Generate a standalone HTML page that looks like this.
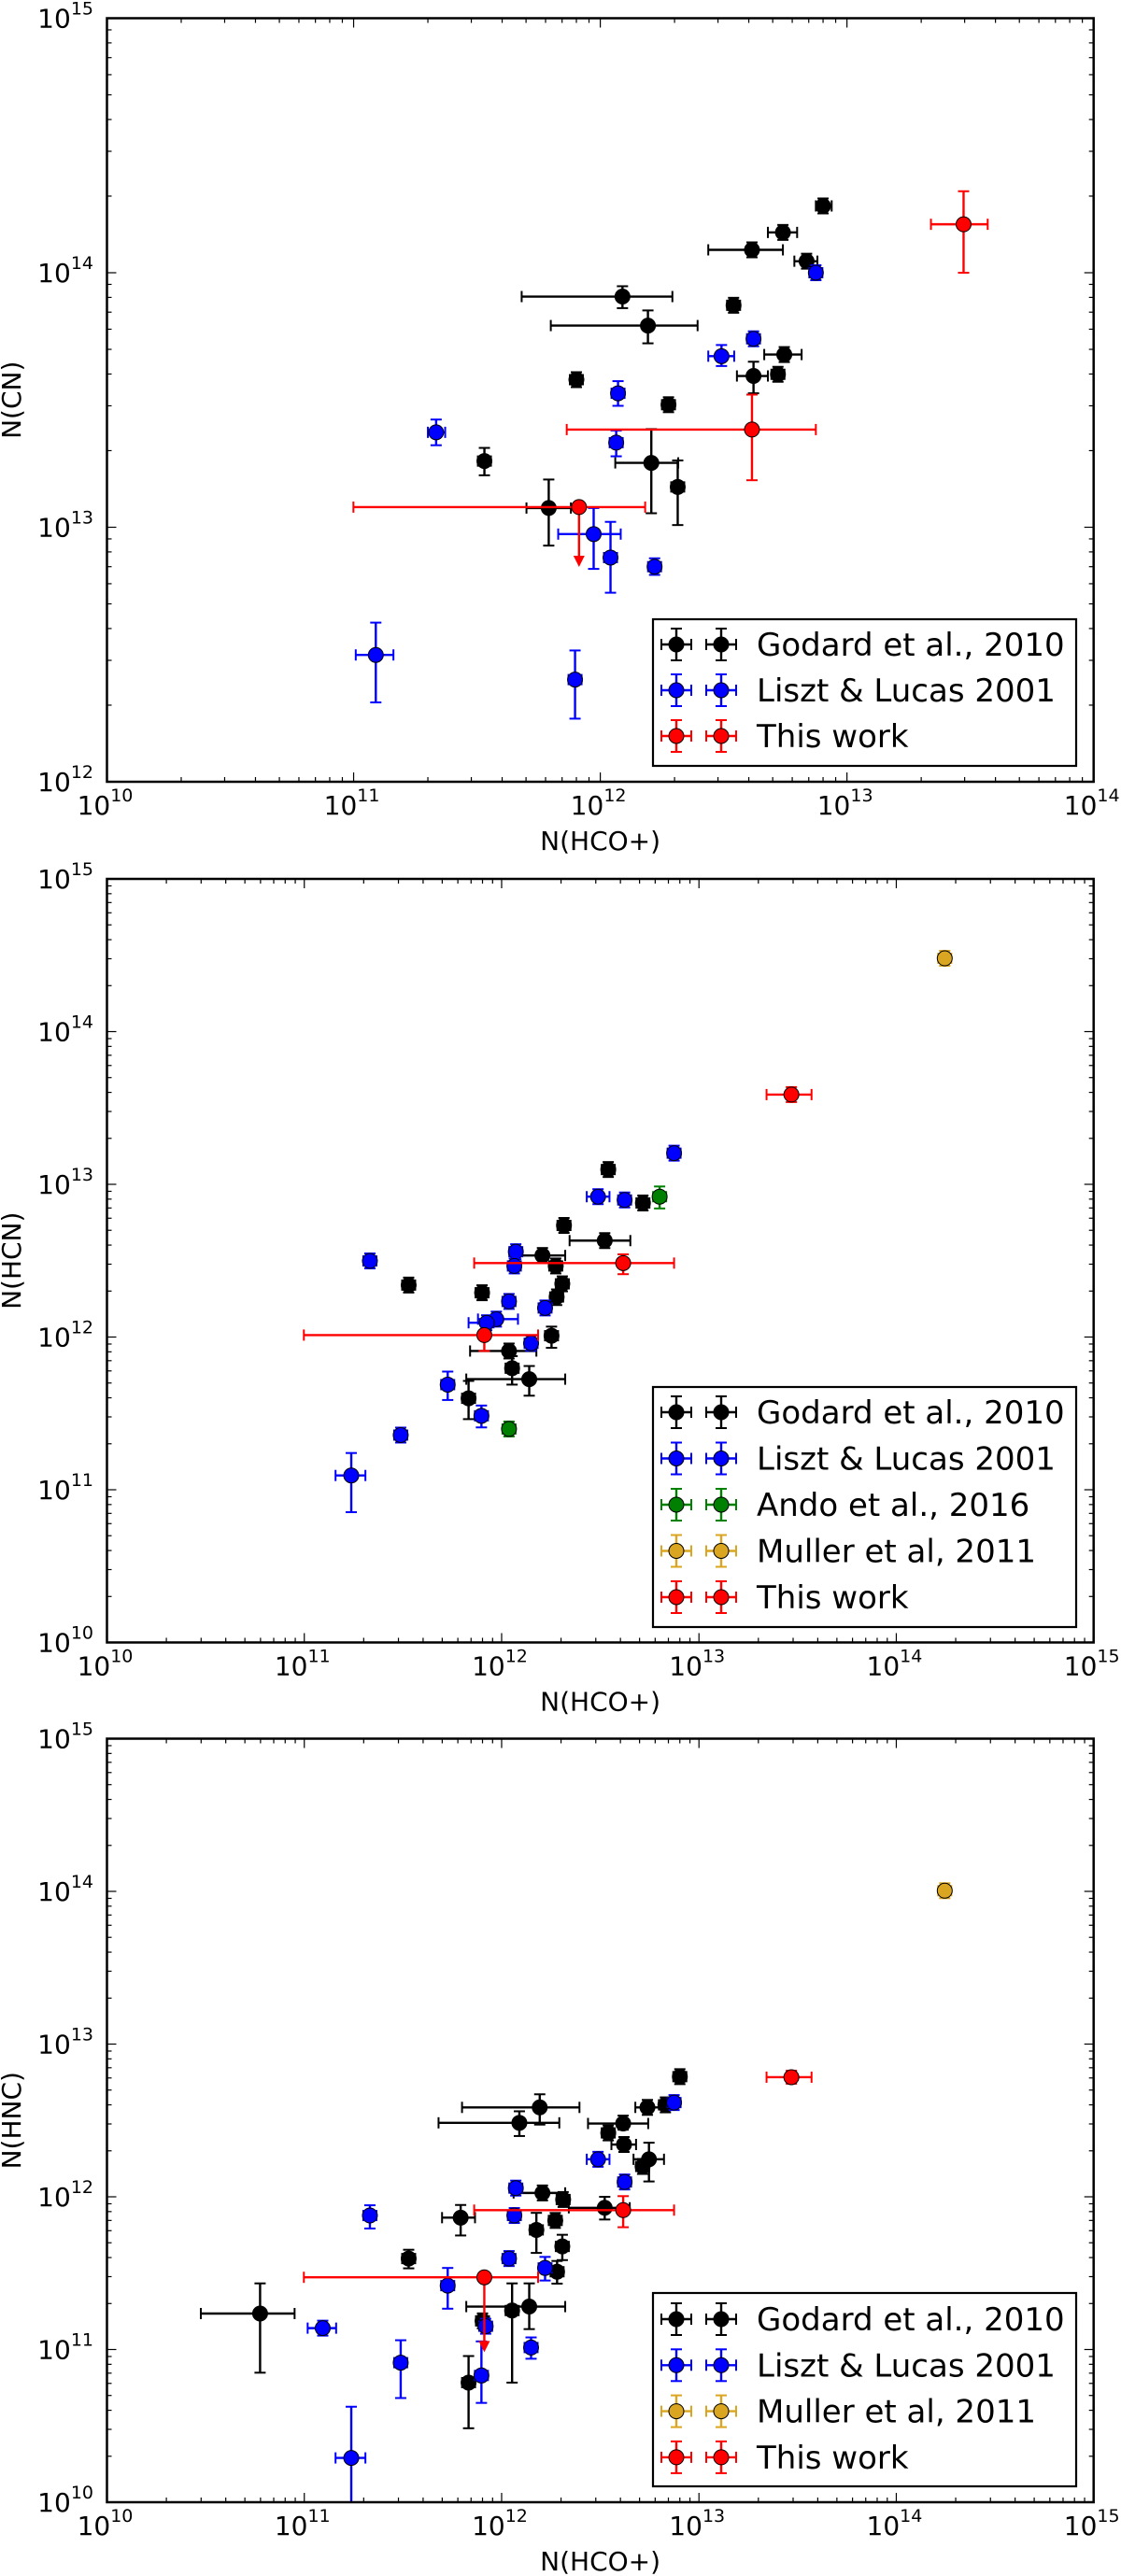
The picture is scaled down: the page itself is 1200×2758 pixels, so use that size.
<!DOCTYPE html>
<html><head><meta charset="utf-8"><title>Column density comparisons</title>
<style>html,body{margin:0;padding:0;background:#fff}svg{display:block}text{font-family:"DejaVu Sans","Liberation Sans",sans-serif;fill:#000}</style>
</head><body>
<svg id="fig" xmlns="http://www.w3.org/2000/svg" width="1200" height="2758" viewBox="0 0 1200 2758"></svg>
<script>
// ---- data: [x, y, xlo, xhi, ylo, yhi] (null = small error) ----
const p1Godard=[[8.0e12,1.83e14,7.48e12,8.67e12,null,null],[5.5e12,1.44e14,4.78e12,6.28e12,null,null],[4.12e12,1.23e14,2.74e12,5.5e12,null,null],[6.86e12,1.11e14,6.12e12,7.59e12,null,null],[1.23e12,8.06e13,4.8e11,1.96e12,7.26e13,8.85e13],[3.47e12,7.45e13,null,null,null,null],[1.56e12,6.2e13,6.3e11,2.48e12,5.28e13,7.11e13],[5.57e12,4.77e13,4.62e12,6.55e12,null,null],[4.18e12,3.93e13,3.58e12,4.78e12,3.36e13,4.47e13],[5.25e12,3.99e13,null,null,null,null],[8.0e11,3.8e13,null,null,null,null],[1.89e12,3.03e13,null,null,null,null],[3.39e11,1.82e13,null,null,1.6e13,2.05e13],[1.61e12,1.79e13,1.15e12,2.07e12,1.135e13,2.43e13],[2.06e12,1.44e13,null,null,1.02e13,1.83e13],[6.18e11,1.19e13,5.02e11,7.6e11,8.47e12,1.54e13]];
const p1Liszt=[[7.48e12,1.0e14,null,null,null,null],[4.18e12,5.5e13,null,null,null,null],[3.1e12,4.7e13,2.74e12,3.49e12,4.3e13,5.2e13],[1.18e12,3.36e13,null,null,3.0e13,3.75e13],[2.16e11,2.36e13,2.0e11,2.35e11,2.1e13,2.65e13],[1.16e12,2.15e13,null,null,1.9e13,2.4e13],[9.4e11,9.4e12,6.75e11,1.21e12,6.86e12,1.19e13],[1.1e12,7.6e12,null,null,5.53e12,1.05e13],[1.66e12,7.0e12,null,null,6.5e12,7.55e12],[1.23e11,3.15e12,1.02e11,1.45e11,2.05e12,4.22e12],[7.9e11,2.52e12,null,null,1.77e12,3.28e12]];
const p1Red=[[2.97e13,1.55e14,2.19e13,3.72e13,1.0e14,2.09e14],[4.12e12,2.42e13,7.31e11,7.48e12,1.53e13,3.32e13]];
const p1RedLimit=[[8.2e11,1.2e13,9.98e10,1.52e12,6.98e12]];

const p2Godard=[[3.47e12,1.25e13,null,null,null,null],[5.2e12,7.55e12,null,null,null,null],[2.07e12,5.38e12,null,null,null,null],[3.33e12,4.28e12,2.21e12,4.49e12,null,null],[1.61e12,3.42e12,1.17e12,2.1e12,null,null],[1.88e12,2.92e12,null,null,null,null],[2.03e12,2.23e12,null,null,null,null],[3.38e11,2.19e12,null,null,null,null],[7.96e11,1.95e12,null,null,null,null],[1.9e12,1.83e12,null,null,1.62e12,2.05e12],[1.79e12,1.02e12,null,null,8.5e11,1.17e12],[1.09e12,8.1e11,6.92e11,1.5e12,null,null],[1.13e12,6.25e11,null,null,4.88e11,7.5e11],[1.38e12,5.3e11,6.62e11,2.1e12,4.13e11,6.46e11],[6.8e11,3.97e11,null,null,2.9e11,5.16e11]];
const p2Liszt=[[7.48e12,1.6e13,null,null,null,null],[3.08e12,8.3e12,2.7e12,3.52e12,null,null],[4.2e12,7.9e12,null,null,null,null],[1.18e12,3.62e12,null,null,null,null],[1.16e12,2.92e12,null,null,null,null],[2.15e11,3.15e12,null,null,null,null],[1.09e12,1.71e12,null,null,null,null],[1.66e12,1.55e12,null,null,null,null],[9.4e11,1.31e12,7.59e11,1.21e12,null,null],[8.4e11,1.24e12,6.8e11,9.1e11,null,null],[1.41e12,9.1e11,null,null,null,null],[5.33e11,4.88e11,null,null,3.87e11,5.94e11],[7.9e11,3.05e11,null,null,2.56e11,3.56e11],[3.08e11,2.28e11,null,null,null,null],[1.73e11,1.24e11,1.44e11,2.04e11,7.13e10,1.74e11]];
const p2Ando=[[6.32e12,8.3e12,null,null,6.95e12,9.68e12],[1.09e12,2.5e11,null,null,null,null]];
const p2Muller=[[1.76e14,3.02e14,null,null,null,null]];
const p2Red=[[2.94e13,3.87e13,2.2e13,3.72e13,null,null],[4.13e12,3.05e12,7.26e11,7.48e12,2.58e12,3.48e12],[8.17e11,1.03e12,9.95e10,1.53e12,8.1e11,1.03e12]];

const p3Godard=[[8.0e12,6.12e12,null,null,null,null],[6.76e12,4.0e12,null,null,null,null],[5.48e12,3.85e12,4.76e12,6.65e12,null,null],[1.56e12,3.85e12,6.3e11,2.48e12,2.97e12,4.69e12],[1.23e12,3.05e12,4.79e11,1.96e12,2.5e12,3.63e12],[4.13e12,3.02e12,2.74e12,5.53e12,2.75e12,3.4e12],[3.47e12,2.62e12,null,null,null,null],[4.17e12,2.2e12,3.6e12,4.8e12,null,null],[5.58e12,1.76e12,4.66e12,6.65e12,1.26e12,2.26e12],[5.18e12,1.58e12,null,null,null,null],[1.61e12,1.06e12,1.15e12,2.1e12,null,null],[2.05e12,9.6e11,null,null,null,null],[3.33e12,8.47e11,2.19e12,4.46e12,7.1e11,1.0e12],[6.2e11,7.3e11,4.99e11,7.33e11,5.58e11,8.84e11],[1.87e12,7.0e11,null,null,null,null],[1.5e12,6.07e11,null,null,4.29e11,7.85e11],[2.03e12,4.73e11,null,null,3.85e11,5.64e11],[3.38e11,3.94e11,null,null,3.4e11,4.5e11],[1.91e12,3.23e11,null,null,2.7e11,3.8e11],[5.97e10,1.72e11,2.99e10,8.93e10,7.05e10,2.71e11],[1.38e12,1.91e11,6.62e11,2.1e12,1.36e11,2.71e11],[1.13e12,1.8e11,null,null,6.07e10,2.71e11],[8.0e11,1.54e11,null,null,null,null],[6.8e11,6.07e10,null,null,3.05e10,9.06e10]];
const p3Liszt=[[7.48e12,4.14e12,null,null,null,null],[3.08e12,1.76e12,2.7e12,3.52e12,null,null],[4.2e12,1.25e12,null,null,null,null],[1.18e12,1.14e12,null,null,null,null],[1.16e12,7.54e11,null,null,null,null],[2.15e11,7.54e11,null,null,6.2e11,8.8e11],[1.09e12,3.94e11,null,null,null,null],[1.66e12,3.42e11,null,null,2.83e11,4.04e11],[5.33e11,2.62e11,null,null,1.85e11,3.42e11],[8.3e11,1.42e11,null,null,null,null],[1.24e11,1.38e11,1.04e11,1.45e11,null,null],[1.41e12,1.03e11,null,null,8.7e10,1.2e11],[3.08e11,8.2e10,null,null,4.81e10,1.15e11],[7.9e11,6.76e10,null,null,4.47e10,1.13e11],[1.73e11,1.95e10,1.44e11,2.04e11,1e9,4.22e10]];
const p3Muller=[[1.76e14,1.01e14,null,null,null,null]];
const p3Red=[[2.94e13,6.07e12,2.2e13,3.72e13,5.5e12,6.7e12],[4.13e12,8.18e11,7.26e11,7.48e12,6.32e11,1.01e12]];
const p3RedLimit=[[8.17e11,2.97e11,9.95e10,1.53e12,9.6e10]];

const COLORS={black:'#000000',blue:'#0000ff',green:'#008000',gold:'#daa520',red:'#ff0000'};
const NS='http://www.w3.org/2000/svg';
const svg=document.getElementById('fig');
function mk(tag,attrs,parent){const e=document.createElementNS(NS,tag);for(const k in attrs)e.setAttribute(k,attrs[k]);(parent||svg).appendChild(e);return e;}
const L=114.5,R=1170.7;

function panel(cfg){
  const g=mk('g',{});
  
  
  const lg=Math.log10;
  const sx=v=>L+(lg(v)-cfg.x0)/(cfg.x1-cfg.x0)*(R-L);
  const sy=v=>cfg.B-(lg(v)-cfg.y0)/(cfg.y1-cfg.y0)*(cfg.B-cfg.T);
  const clipId='clip'+cfg.idx;
  const cp=mk('clipPath',{id:clipId},g);mk('rect',{x:L,y:cfg.T,width:R-L,height:cfg.B-cfg.T},cp);
  const tg=mk('g',{stroke:'#000','stroke-width':1.2},g);
  
  
  for(let d=cfg.x0;d<=cfg.x1;d++){for(let m=1;m<=9;m++){const v=m*Math.pow(10,d);if(lg(v)>cfg.x1+1e-9)break;const x=sx(v);const len=m===1?10:5;
    mk('line',{x1:x,y1:cfg.B,x2:x,y2:cfg.B-len},tg);mk('line',{x1:x,y1:cfg.T,x2:x,y2:cfg.T+len},tg);}}
  for(let d=cfg.y0;d<=cfg.y1;d++){for(let m=1;m<=9;m++){const v=m*Math.pow(10,d);if(lg(v)>cfg.y1+1e-9)break;const y=sy(v);const len=m===1?10:5;
    mk('line',{x1:L,y1:y,x2:L+len,y2:y},tg);mk('line',{x1:R,y1:y,x2:R-len,y2:y},tg);}}
  for(let d=cfg.x0;d<=cfg.x1;d++){const t=mk('text',{x:sx(Math.pow(10,d))-2,y:cfg.B+35,'font-size':28,'text-anchor':'middle'},g);
    
    
    t.appendChild(document.createTextNode('10'));const s=mk('tspan',{dy:-14,'font-size':19},t);s.textContent=String(d);}
  for(let d=cfg.y0;d<=cfg.y1;d++){const t=mk('text',{x:100,y:sy(Math.pow(10,d))+10,'font-size':28,'text-anchor':'end'},g);
    
    
    t.appendChild(document.createTextNode('10'));const s=mk('tspan',{dy:-14,'font-size':19},t);s.textContent=String(d);}
  const xt=mk('text',{x:(L+R)/2,y:cfg.B+73,'font-size':28,'text-anchor':'middle'},g);xt.textContent='N(HCO+)';
  
  
  const cy=(cfg.T+cfg.B)/2;
  const yt=mk('text',{x:22,y:cy,'font-size':28,'text-anchor':'middle',transform:'rotate(-90 22 '+cy+')'},g);yt.textContent=cfg.ylabel;
  
  
  const dg=mk('g',{'clip-path':'url(#'+clipId+')'},g);
  function errbar(col,x1,y1,x2,y2,horiz,parent){
    mk('line',{x1:x1,y1:y1,x2:x2,y2:y2,stroke:col,'stroke-width':2.4},parent);
    if(horiz){mk('line',{x1:x1,y1:y1-6,x2:x1,y2:y1+6,stroke:col,'stroke-width':2},parent);mk('line',{x1:x2,y1:y2-6,x2:x2,y2:y2+6,stroke:col,'stroke-width':2},parent);}
    else{mk('line',{x1:x1-6,y1:y1,x2:x1+6,y2:y1,stroke:col,'stroke-width':2},parent);mk('line',{x1:x2-6,y1:y2,x2:x2+6,y2:y2,stroke:col,'stroke-width':2},parent);}
  }
  cfg.series.forEach(s=>{
    const col=COLORS[s.color];
    const sg=mk('g',{},dg);
    
    
    s.data.forEach(p=>{
      const x=sx(p[0]),y=sy(p[1]);
      const xl=p[2]!=null?sx(p[2]):x-7,xh=p[3]!=null?sx(p[3]):x+7;
      const yl=p[4]!=null?sy(p[4]):y+8,yh=p[5]!=null?sy(p[5]):y-8;
      errbar(col,xl,y,xh,y,true,sg);errbar(col,x,yh,x,yl,false,sg);
      const c=mk('circle',{cx:x,cy:y,r:8,fill:col,stroke:'#000','stroke-width':1},sg);
      
      
    });
    (s.limits||[]).forEach(p=>{
      const x=sx(p[0]),y=sy(p[1]),xl=sx(p[2]),xh=sx(p[3]),ye=sy(p[4]);
      errbar(col,xl,y,xh,y,true,sg);
      mk('line',{x1:x,y1:y,x2:x,y2:ye-10,stroke:col,'stroke-width':2.4},sg);
      const a=mk('polygon',{points:(x-6)+','+(ye-12)+' '+(x+6)+','+(ye-12)+' '+x+','+ye,fill:col},sg);
      
      
      const c=mk('circle',{cx:x,cy:y,r:8,fill:col,stroke:'#000','stroke-width':1},sg);
      
      
    });
  });
  const fr=mk('rect',{x:L,y:cfg.T,width:R-L,height:cfg.B-cfg.T,fill:'none',stroke:'#000','stroke-width':2.5},g);
  
  
  const lgd=mk('g',{},g);
  
  
  mk('rect',{x:699,y:cfg.legTop,width:453,height:cfg.legBot-cfg.legTop,fill:'#fff',stroke:'#000','stroke-width':2.2},lgd);
  cfg.series.forEach((s,i)=>{
    const col=COLORS[s.color];const ry=cfg.legRow0+i*cfg.legStep;
    const eg=mk('g',{},lgd);
    
    
    [724,772].forEach(mx=>{errbar(col,mx-16,ry,mx+16,ry,true,eg);errbar(col,mx,ry-17,mx,ry+17,false,eg);mk('circle',{cx:mx,cy:ry,r:8,fill:col,stroke:'#000','stroke-width':1},eg);});
    const t=mk('text',{x:810,y:ry+12,'font-size':34},eg);t.textContent=s.label;
  });
}

panel({idx:1,name:'cn-vs-hcop-panel',x0:10,x1:14,y0:12,y1:15,T:19.5,B:837,ylabel:'N(CN)',
  legTop:663,legBot:820,legRow0:690,legStep:49,
  series:[{name:'godard-2010-series',label:'Godard et al., 2010',color:'black',data:p1Godard},
          {name:'liszt-lucas-2001-series',label:'Liszt & Lucas 2001',color:'blue',data:p1Liszt},
          {name:'this-work-series',label:'This work',color:'red',data:p1Red,limits:p1RedLimit}]});
panel({idx:2,name:'hcn-vs-hcop-panel',x0:10,x1:15,y0:10,y1:15,T:941,B:1758.5,ylabel:'N(HCN)',
  legTop:1485,legBot:1742,legRow0:1512,legStep:49.5,
  series:[{name:'godard-2010-series',label:'Godard et al., 2010',color:'black',data:p2Godard},
          {name:'liszt-lucas-2001-series',label:'Liszt & Lucas 2001',color:'blue',data:p2Liszt},
          {name:'ando-2016-series',label:'Ando et al., 2016',color:'green',data:p2Ando},
          {name:'muller-2011-series',label:'Muller et al, 2011',color:'gold',data:p2Muller},
          {name:'this-work-series',label:'This work',color:'red',data:p2Red}]});
panel({idx:3,name:'hnc-vs-hcop-panel',x0:10,x1:15,y0:10,y1:15,T:1861.5,B:2679,ylabel:'N(HNC)',
  legTop:2455,legBot:2662,legRow0:2483,legStep:49.3,
  series:[{name:'godard-2010-series',label:'Godard et al., 2010',color:'black',data:p3Godard},
          {name:'liszt-lucas-2001-series',label:'Liszt & Lucas 2001',color:'blue',data:p3Liszt},
          {name:'muller-2011-series',label:'Muller et al, 2011',color:'gold',data:p3Muller},
          {name:'this-work-series',label:'This work',color:'red',data:p3Red,limits:p3RedLimit}]});
</script>
</body></html>
